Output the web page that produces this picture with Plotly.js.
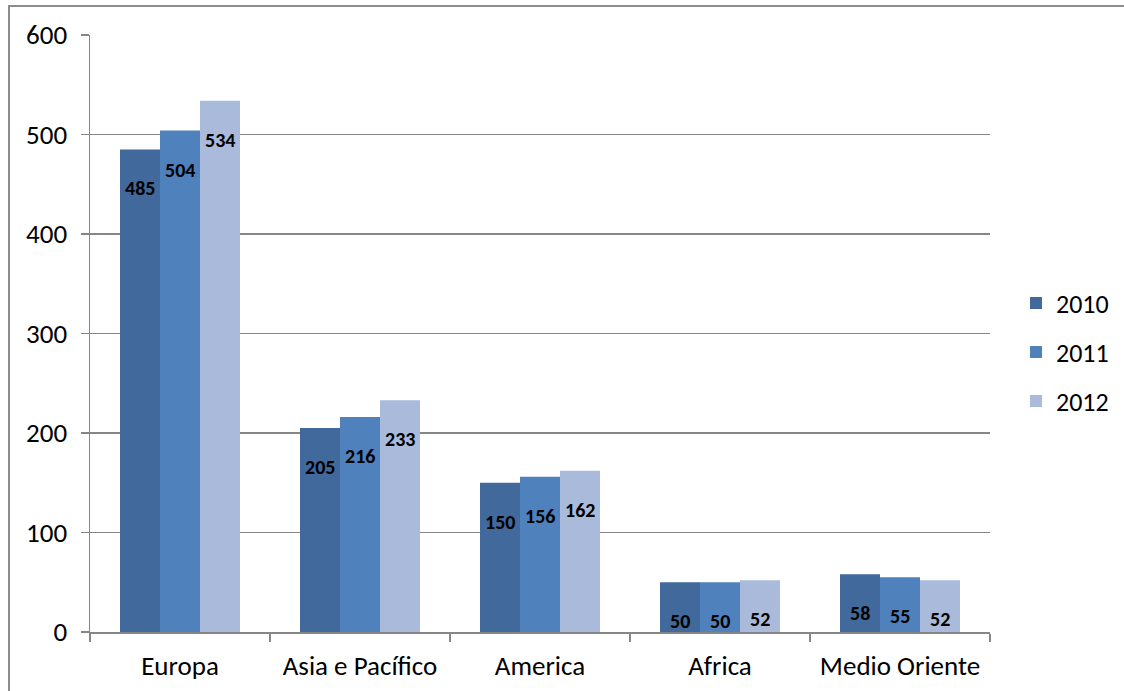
<!DOCTYPE html>
<html>
<head>
<meta charset="utf-8">
<script src="https://cdn.plot.ly/plotly-3.0.1.min.js"></script>
<style>
html,body{margin:0;padding:0;background:#fff;overflow:hidden;}
#chart{width:1124px;height:691px;}
#frame{position:absolute;left:8px;top:5px;width:1300px;height:900px;border:2px solid #8c8c8c;pointer-events:none;box-sizing:border-box;}
</style>
</head>
<body>
<div id="chart"></div>
<div id="frame"></div>
<script>
const categories = ["Europa", "Asia e Pacífico", "America", "Africa", "Medio Oriente"];
const seriesNames = ["2010", "2011", "2012"];
const values2010 = [485, 205, 150, 50, 58];
const values2011 = [504, 216, 156, 50, 55];
const values2012 = [534, 233, 162, 52, 52];
const colors = ["#41699B", "#4F81BD", "#AABADA"];
const yTicks = [0, 100, 200, 300, 400, 500, 600];

const allValues = [values2010, values2011, values2012];
const font = "Carlito, Lato, 'Open Sans', sans-serif";

const traces = allValues.map((vals, i) => ({
  type: "bar",
  name: seriesNames[i],
  x: categories,
  y: vals,
  marker: {color: colors[i], line: {width: 0}},
  legend: i === 0 ? "legend" : "legend" + (i + 1),
  hoverinfo: "skip"
}));

const annotations = [];
allValues.forEach((vals, i) => {
  vals.forEach((v, j) => {
    annotations.push({
      x: categories[j], y: v, xref: "x", yref: "y",
      text: "<b>" + v + "</b>", showarrow: false,
      xshift: (i - 1) * 40, yshift: -39,
      font: {family: font, size: 20, color: "#000"}
    });
  });
});

const legendBase = {
  xref: "paper", yref: "paper", xanchor: "left", yanchor: "middle",
  font: {family: font, size: 26, color: "#000"},
  bgcolor: "rgba(0,0,0,0)", itemwidth: 30
};
const py = px => (632 - px) / 597;
const lx = (1016 - 90) / 900;

const layout = {
  width: 1124, height: 691,
  margin: {l: 90, r: 134, t: 35, b: 59, pad: 0, autoexpand: false},
  paper_bgcolor: "rgba(0,0,0,0)",
  plot_bgcolor: "rgba(0,0,0,0)",
  barmode: "group",
  bargap: 1/3,
  bargroupgap: 0,
  xaxis: {
    type: "category",
    showline: true, linecolor: "#868686", linewidth: 1.5,
    ticks: "outside", tickson: "boundaries", ticklen: 8, tickcolor: "#868686", tickwidth: 1.5,
    tickfont: {family: font, size: 27, color: "#000"},
    showgrid: false, zeroline: false,
    ticklabelstandoff: 9
  },
  yaxis: {
    range: [0, 600],
    tickvals: yTicks,
    showline: true, linecolor: "#868686", linewidth: 1.5,
    ticks: "outside", ticklen: 8, tickcolor: "#868686", tickwidth: 1.5,
    tickfont: {family: font, size: 27, color: "#000"},
    showgrid: true, gridcolor: "#868686", gridwidth: 1.5,
    zeroline: false,
    ticklabelstandoff: 8
  },
  showlegend: true,
  legend: Object.assign({}, legendBase, {x: lx, y: py(303)}),
  legend2: Object.assign({}, legendBase, {x: lx, y: py(352)}),
  legend3: Object.assign({}, legendBase, {x: lx, y: py(401)}),
  annotations: annotations
};

Plotly.newPlot("chart", traces, layout, {displayModeBar: false, staticPlot: true});
</script>
</body>
</html>
